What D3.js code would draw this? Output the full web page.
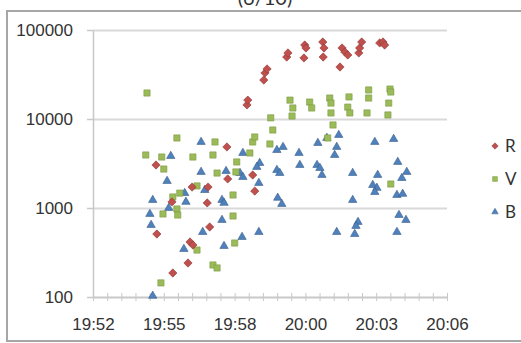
<!DOCTYPE html>
<html>
<head>
<meta charset="utf-8">
<script src="https://cdn.jsdelivr.net/npm/d3@7"></script>
<style>
  html, body { margin: 0; padding: 0; background: #fff; }
  svg { display: block; font-family: Lato, "Open Sans", sans-serif; }
</style>
</head>
<body>
<div id="container"></div>
<script>
const WIDTH = 521;
const HEIGHT = 343;
const PLOT = { LEFT: 93, RIGHT: 447, TOP: 30, BOTTOM: 297 };

// time of reading, magnitude
const seriesR = [
  ['19:54:53', 3040], ['19:54:55', 510], ['19:55:32', 1170], ['19:55:34', 186],
  ['19:56:11', 241], ['19:56:16', 415], ['19:56:23', 384], ['19:56:21', 1720],
  ['19:57:00', 1720], ['19:56:58', 1140], ['19:57:04', 612], ['19:57:46', 4850],
  ['19:57:48', 2120], ['19:58:49', 2350], ['19:58:54', 1550], ['19:58:35', 14400],
  ['19:58:37', 16300], ['19:59:16', 27400], ['19:59:19', 32900], ['19:59:24', 36500],
  ['20:00:12', 49700], ['20:00:15', 55200], ['20:00:54', 48500], ['20:00:56', 67800],
  ['20:00:59', 62800], ['20:01:40', 73300], ['20:01:43', 62800], ['20:01:41', 49700],
  ['20:02:22', 38400], ['20:02:27', 62800], ['20:02:34', 56600], ['20:02:41', 52400],
  ['20:03:08', 55200], ['20:03:10', 62800], ['20:03:15', 73300], ['20:03:59', 71500],
  ['20:04:07', 73300], ['20:04:11', 67800]
];

const seriesV = [
  ['19:54:31', 19600], ['19:54:28', 3940], ['19:55:07', 3740], ['19:55:12', 2740],
  ['19:55:44', 6120], ['19:56:23', 3740], ['19:55:10', 857], ['19:55:05', 144],
  ['19:55:34', 1330], ['19:55:51', 1470], ['19:55:44', 975], ['19:55:46', 834],
  ['19:56:33', 1770], ['19:56:33', 337], ['19:57:17', 5520], ['19:57:12', 3940],
  ['19:57:22', 2470], ['19:57:12', 229], ['19:57:22', 212], ['19:58:01', 1400],
  ['19:58:01', 813], ['19:58:05', 404], ['19:58:10', 3290], ['19:58:08', 2540],
  ['19:58:42', 4150], ['19:58:49', 5520], ['19:58:54', 6280], ['19:59:31', 5240],
  ['19:59:38', 7520], ['19:59:33', 10300], ['20:00:20', 16300], ['20:00:27', 13300],
  ['20:00:25', 10800], ['20:01:08', 15500], ['20:01:13', 13300], ['20:01:52', 6120],
  ['20:01:57', 17200], ['20:02:00', 15100], ['20:02:00', 11700], ['20:02:05', 8570],
  ['20:02:44', 17700], ['20:02:41', 13600], ['20:02:46', 11700], ['20:03:32', 21200],
  ['20:03:32', 17200], ['20:03:28', 11700], ['20:04:24', 21700], ['20:04:26', 20100],
  ['20:04:21', 15100], ['20:04:19', 11100], ['20:04:26', 1860]
];

const seriesB = [
  ['19:54:45', 103], ['19:54:41', 644], ['19:54:38', 857], ['19:54:45', 1230],
  ['19:55:20', 2010], ['19:55:29', 3840], ['19:55:24', 1000], ['19:56:01', 346],
  ['19:56:03', 1470], ['19:56:06', 1170], ['19:56:43', 5520], ['19:56:43', 2540],
  ['19:56:47', 537], ['19:56:52', 1590], ['19:57:34', 1230], ['19:57:39', 1140],
  ['19:57:34', 733], ['19:57:39', 374], ['19:57:44', 2600], ['19:58:18', 2470],
  ['19:58:25', 2230], ['19:58:25', 4150], ['19:58:23', 472], ['19:59:04', 537],
  ['19:59:04', 1910], ['19:59:06', 3200], ['19:58:59', 2890], ['19:59:48', 4480],
  ['20:00:03', 4850], ['19:59:48', 2670], ['19:59:55', 2470], ['19:59:50', 1300],
  ['20:00:00', 1110], ['20:00:42', 4150], ['20:00:44', 3040], ['20:01:28', 5370],
  ['20:01:26', 3040], ['20:01:33', 2810], ['20:01:38', 2350], ['20:01:50', 6120],
  ['20:02:19', 6610], ['20:02:14', 4850], ['20:02:09', 3940], ['20:02:14', 537],
  ['20:02:53', 2470], ['20:02:53', 1230], ['20:03:06', 696], ['20:03:01', 628],
  ['20:02:58', 510], ['20:03:47', 5520], ['20:03:54', 2350], ['20:03:42', 1810],
  ['20:03:52', 1680], ['20:03:47', 1510], ['20:04:33', 5960], ['20:04:43', 3290],
  ['20:05:05', 2540], ['20:04:53', 2170], ['20:04:41', 1400], ['20:04:55', 1440],
  ['20:04:46', 834], ['20:05:03', 733], ['20:04:41', 537]
];

// axis: fractions of a day, as in the spreadsheet
const xTicks = [0.828, 0.830, 0.832, 0.834, 0.836, 0.838];
const xTickLabels = ['19:52', '19:55', '19:58', '20:00', '20:03', '20:06'];
const xMinorStep = 0.0004;
const yTicks = [100, 1000, 10000, 100000];

const legendNames = ['R', 'V', 'B'];
const colors = { R: '#c0504d', V: '#9bbb59', B: '#4f81bd' };
const strokes = { R: '#8c3836', V: '#7d9a44', B: '#385d8a' };
const shapes = { R: d3.symbolDiamond2, V: d3.symbolSquare2, B: d3.symbolTriangle2 };
const sizes = { R: 44, V: 50, B: 50 };

const dayFraction = s => {
    const [h, m, sec] = s.split(':').map(Number);
    return (h * 3600 + m * 60 + sec) / 86400;
};

const x = d3.scaleLinear().domain([xTicks[0], xTicks[xTicks.length - 1]])
            .range([PLOT.LEFT, PLOT.RIGHT]);
const y = d3.scaleLog().domain([100, 100000]).range([PLOT.BOTTOM, PLOT.TOP]);

const svg = d3.select('#container')
  .append('svg')
    .attr('width', WIDTH)
    .attr('height', HEIGHT);

// title, mostly cut off at the top as in the source
svg.append('text')
   .attr('x', 265).attr('y', 5)
   .attr('text-anchor', 'middle')
   .attr('font-size', 20)
   .attr('fill', '#333')
   .text('(6/10)');

// chart frame
svg.append('rect')
   .attr('x', 7).attr('y', 11)
   .attr('width', WIDTH + 10).attr('height', 330)
   .attr('fill', '#fff')
   .attr('stroke', '#a6a6a6')
   .attr('stroke-width', 2);

// gridlines
svg.append('g')
   .attr('transform', `translate(${PLOT.LEFT},0)`)
   .call(d3.axisLeft(y).tickValues(yTicks).tickSize(-(PLOT.RIGHT - PLOT.LEFT)).tickFormat(''))
   .call(g => g.select('.domain').remove())
   .call(g => g.selectAll('line').attr('stroke', '#d9d9d9').attr('stroke-width', 2));

// y axis
const yAxis = svg.append('g')
   .attr('transform', `translate(${PLOT.LEFT},0)`)
   .call(d3.axisLeft(y).tickValues(yTicks).tickSize(6).tickSizeOuter(0)
           .tickPadding(14).tickFormat(d3.format('d')));
yAxis.select('.domain').attr('stroke', '#c8c8c8').attr('stroke-width', 1.5);
yAxis.selectAll('line').attr('stroke', '#c8c8c8').attr('stroke-width', 1.5);
yAxis.selectAll('text').attr('font-size', 17).attr('fill', '#333');

// x axis: minor crossing ticks
const minorTicks = d3.range(xTicks[0], xTicks[xTicks.length - 1] + xMinorStep / 2, xMinorStep);
svg.append('g')
   .attr('transform', `translate(0,${PLOT.BOTTOM})`)
   .call(d3.axisBottom(x).tickValues(minorTicks).tickSize(4).tickSizeOuter(0).tickFormat(''))
   .call(g => g.select('.domain').attr('stroke', '#c8c8c8').attr('stroke-width', 1.5))
   .call(g => g.selectAll('.tick line').attr('y1', -4).attr('stroke', '#c8c8c8'));

const xAxis = svg.append('g')
   .attr('transform', `translate(0,${PLOT.BOTTOM})`)
   .call(d3.axisBottom(x).tickValues(xTicks).tickSize(0).tickPadding(21)
           .tickFormat((d, i) => xTickLabels[i]));
xAxis.select('.domain').remove();
xAxis.selectAll('text').attr('font-size', 17).attr('fill', '#333');

// points
const allSeries = [['B', seriesB], ['V', seriesV], ['R', seriesR]];
allSeries.forEach(([name, data]) => {
    svg.append('g')
       .selectAll('path')
       .data(data)
       .enter()
       .append('path')
       .attr('transform', d => `translate(${x(dayFraction(d[0]))},${y(d[1])})`)
       .attr('d', d3.symbol().type(shapes[name]).size(sizes[name]))
       .attr('fill', colors[name])
       .attr('stroke', strokes[name])
       .attr('stroke-width', 0.6);
});

// legend
const legend = svg.append('g')
   .selectAll('g')
   .data(legendNames)
   .enter()
   .append('g')
   .attr('transform', (d, i) => `translate(495,${146 + i * 33})`);

legend.append('path')
   .attr('d', d => d3.symbol().type(shapes[d]).size(sizes[d] * 0.6)())
   .attr('fill', d => colors[d])
   .attr('stroke', d => strokes[d])
   .attr('stroke-width', 0.5);

legend.append('text')
   .attr('x', 10).attr('dy', '0.36em')
   .attr('font-size', 17)
   .attr('fill', '#333')
   .text(d => d);
</script>
</body>
</html>
